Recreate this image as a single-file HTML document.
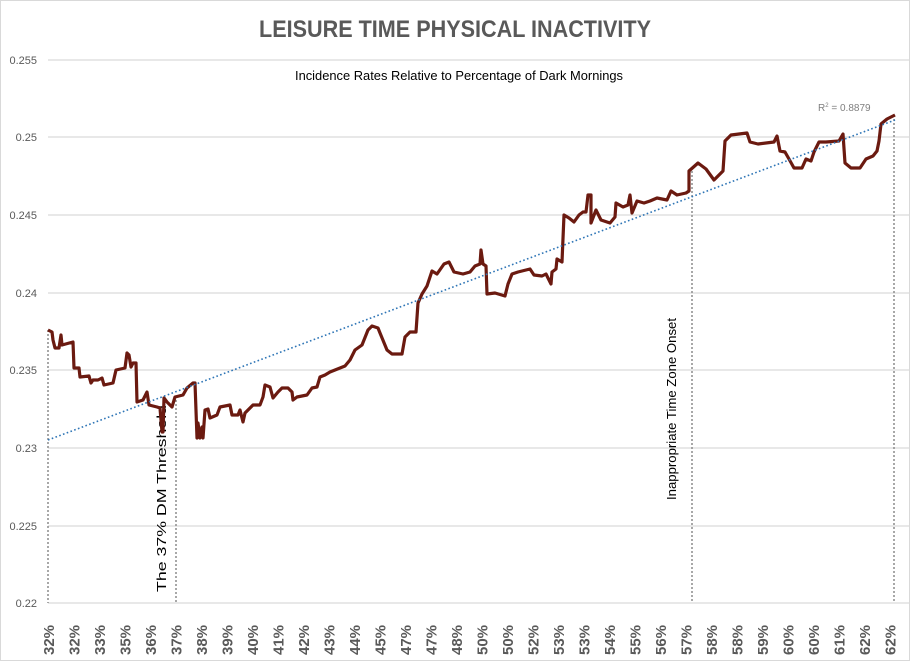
<!DOCTYPE html>
<html><head><meta charset="utf-8"><style>
html,body{margin:0;padding:0;background:#fff}
svg{display:block}
</style></head><body>
<svg width="910" height="661" viewBox="0 0 910 661" xmlns="http://www.w3.org/2000/svg" font-family="Liberation Sans, sans-serif">
<rect x="0.5" y="0.5" width="909" height="660" fill="#fff" stroke="#d9d9d9"/>
<text x="455" y="37" text-anchor="middle" font-size="24" font-weight="bold" fill="#595959" textLength="392" lengthAdjust="spacingAndGlyphs">LEISURE TIME PHYSICAL INACTIVITY</text>
<text x="459" y="80" text-anchor="middle" font-size="13" fill="#000" textLength="328" lengthAdjust="spacingAndGlyphs">Incidence Rates Relative to Percentage of Dark Mornings</text>
<g stroke="#d9d9d9" stroke-width="1.2">
<line x1="48" y1="60" x2="910" y2="60"/><line x1="48" y1="137" x2="910" y2="137"/>
<line x1="48" y1="215" x2="910" y2="215"/><line x1="48" y1="293" x2="910" y2="293"/>
<line x1="48" y1="370" x2="910" y2="370"/><line x1="48" y1="448" x2="910" y2="448"/>
<line x1="48" y1="526" x2="910" y2="526"/><line x1="48" y1="603" x2="910" y2="603"/>
</g>
<g font-size="11" fill="#595959" text-anchor="end">
<text x="37" y="64">0.255</text><text x="37" y="141">0.25</text><text x="37" y="219">0.245</text>
<text x="37" y="297">0.24</text><text x="37" y="374">0.235</text><text x="37" y="452">0.23</text>
<text x="37" y="530">0.225</text><text x="37" y="607">0.22</text>
</g>
<g stroke="#8c8c8c" stroke-width="1.5" stroke-dasharray="2,2">
<line x1="48" y1="330" x2="48" y2="603"/><line x1="176" y1="400" x2="176" y2="603"/>
<line x1="692" y1="171" x2="692" y2="603"/><line x1="894" y1="115" x2="894" y2="603"/>
</g>
<text transform="translate(166,592) rotate(-90)" font-size="13" fill="#000" textLength="187" lengthAdjust="spacingAndGlyphs">The 37% DM Threshold</text>
<text transform="translate(676,500) rotate(-90)" font-size="13" fill="#000" textLength="182" lengthAdjust="spacingAndGlyphs">Inappropriate Time Zone Onset</text>
<polyline fill="none" stroke="#6b1a10" stroke-width="3.2" stroke-linejoin="round" points="48,330 52,332 53,340 55,348 59,348 61,335 62,345 73,342 74,368 79,368 80,377 89,376 91,383 93,380 98,380 102,378 104,385 113,383 116,370 125,368 127,353 129,355 131,367 133,363 136,363 137,402 143,400 147,392 149,405 157,407 160,408 162,432 163,432 164,398 167,402 172,407 175,397 183,395 187,388 193,383 195,383 197,438 198,423 200,438 202,427 203,438 205,410 208,409 210,418 217,415 220,407 230,405 232,415 238,415 240,410 243,422 245,413 253,405 260,405 263,397 265,385 270,387 273,398 278,392 282,388 288,388 292,392 293,400 297,397 307,395 312,388 317,387 320,377 325,375 330,372 340,368 345,366 350,360 355,350 362,345 368,330 372,326 378,328 380,333 387,350 392,354 402,354 405,337 410,332 416,332 418,303 422,294 427,286 432,271 437,274 444,264 449,262 454,272 463,274 470,272 475,266 480,264 481,250 483,264 486,266 487,294 495,293 505,296 508,284 512,274 518,272 530,269 534,275 542,276 546,274 551,284 552,272 556,269 557,259 562,262 564,215 569,218 574,222 579,215 583,212 586,212 588,195 591,195 591,223 596,210 601,220 610,223 615,217 616,203 623,207 628,205 630,195 632,213 637,201 644,203 650,201 657,198 667,200 671,191 677,195 686,193 689,191 689,171 698,163 706,169 714,180 723,171 725,141 731,135 747,133 750,142 758,144 774,142 777,136 780,151 785,152 789,159 794,168 802,168 806,159 811,161 814,152 819,142 826,142 839,141 843,134 845,163 851,168 860,168 866,159 873,156 877,151 879,141 881,124 887,119 895,115"/>
<line x1="48" y1="440" x2="895" y2="120" stroke="#2e75b6" stroke-width="1.6" stroke-dasharray="1.6,2.4"/>
<text x="818" y="111" font-size="10" fill="#7f7f7f">R<tspan font-size="6" dy="-4">2</tspan><tspan dy="4"> = 0.8879</tspan></text>
<g font-size="15" font-weight="bold" fill="#595959">
<text transform="translate(54,655) rotate(-90)">32%</text>
<text transform="translate(79.5,655) rotate(-90)">32%</text>
<text transform="translate(105,655) rotate(-90)">33%</text>
<text transform="translate(130.5,655) rotate(-90)">35%</text>
<text transform="translate(156,655) rotate(-90)">36%</text>
<text transform="translate(181.5,655) rotate(-90)">37%</text>
<text transform="translate(207,655) rotate(-90)">38%</text>
<text transform="translate(232.5,655) rotate(-90)">39%</text>
<text transform="translate(258,655) rotate(-90)">40%</text>
<text transform="translate(283.5,655) rotate(-90)">41%</text>
<text transform="translate(309,655) rotate(-90)">42%</text>
<text transform="translate(334.5,655) rotate(-90)">43%</text>
<text transform="translate(360,655) rotate(-90)">44%</text>
<text transform="translate(385.5,655) rotate(-90)">45%</text>
<text transform="translate(411,655) rotate(-90)">47%</text>
<text transform="translate(436.5,655) rotate(-90)">47%</text>
<text transform="translate(462,655) rotate(-90)">48%</text>
<text transform="translate(487.5,655) rotate(-90)">50%</text>
<text transform="translate(513,655) rotate(-90)">50%</text>
<text transform="translate(538.5,655) rotate(-90)">52%</text>
<text transform="translate(564,655) rotate(-90)">53%</text>
<text transform="translate(589.5,655) rotate(-90)">53%</text>
<text transform="translate(615,655) rotate(-90)">54%</text>
<text transform="translate(640.5,655) rotate(-90)">55%</text>
<text transform="translate(666,655) rotate(-90)">56%</text>
<text transform="translate(691.5,655) rotate(-90)">57%</text>
<text transform="translate(717,655) rotate(-90)">58%</text>
<text transform="translate(742.5,655) rotate(-90)">58%</text>
<text transform="translate(768,655) rotate(-90)">59%</text>
<text transform="translate(793.5,655) rotate(-90)">60%</text>
<text transform="translate(819,655) rotate(-90)">60%</text>
<text transform="translate(844.5,655) rotate(-90)">61%</text>
<text transform="translate(870,655) rotate(-90)">62%</text>
<text transform="translate(895.5,655) rotate(-90)">62%</text>
</g>
</svg>
</body></html>
